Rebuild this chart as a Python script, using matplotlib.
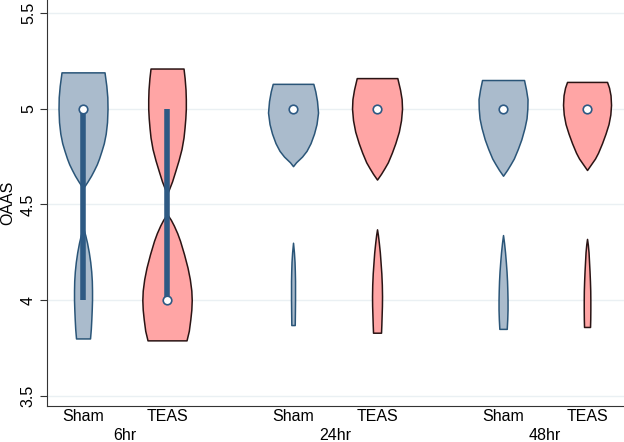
import matplotlib
matplotlib.use("Agg")
import matplotlib.pyplot as plt
import numpy as np

plt.rcParams['font.family'] = ['Liberation Sans', 'DejaVu Sans']

# ---------------- data ----------------
groups = ["6hr", "24hr", "48hr"]
arms = ["Sham", "TEAS"]
positions = [1, 2, 3.5, 4.5, 6, 7]
arm_of = ["Sham", "TEAS", "Sham", "TEAS", "Sham", "TEAS"]
medians = [5, 4, 5, 5, 5, 5]
q1 = [4, 4, 5, 5, 5, 5]
q3 = [5, 5, 5, 5, 5, 5]

# density profiles (y level, half-width density) for each violin, two lobes each
sham6_up_y = [4.586, 4.60, 4.62, 4.65, 4.68, 4.71, 4.74, 4.78, 4.82, 4.87, 4.93, 5.00, 5.06, 5.12, 5.19]
sham6_up_d = [0, 2, 4.5, 8, 11, 13.8, 16, 18.5, 20.8, 22.7, 24, 24.5, 24.3, 23.3, 21.5]
sham6_lo_y = [3.80, 3.85, 3.90, 3.95, 4.00, 4.05, 4.10, 4.15, 4.20, 4.25, 4.30, 4.34, 4.38]
sham6_lo_d = [7, 7.8, 8.3, 8.7, 9, 9, 8.8, 8.2, 7.2, 5.8, 4, 2.2, 0]

teas6_up_y = [4.555, 4.58, 4.62, 4.67, 4.73, 4.79, 4.85, 4.90, 4.95, 5.00, 5.05, 5.10, 5.16, 5.21]
teas6_up_d = [0, 2, 5, 8, 11.5, 14.5, 16.5, 17.5, 18.3, 18.8, 18.8, 18.5, 17.6, 16.5]
teas6_lo_y = [3.79, 3.84, 3.90, 3.95, 4.00, 4.05, 4.11, 4.17, 4.24, 4.31, 4.35, 4.39, 4.42, 4.45]
teas6_lo_d = [19.5, 21.8, 23.3, 24.3, 24.7, 24.3, 22.8, 20.5, 17, 13, 10.2, 6.8, 3.8, 0]

sham24_up_y = [4.70, 4.72, 4.75, 4.78, 4.82, 4.87, 4.92, 4.98, 5.04, 5.09, 5.13]
sham24_up_d = [0, 3, 9, 13.5, 17.5, 21, 23.5, 25, 24, 22.3, 20.3]
sham24_lo_y = [3.87, 3.95, 4.00, 4.05, 4.10, 4.15, 4.20, 4.25, 4.30]
sham24_lo_d = [1.7, 1.9, 2, 2, 2, 1.8, 1.5, 0.9, 0]

teas24_up_y = [4.63, 4.66, 4.69, 4.72, 4.77, 4.82, 4.88, 4.94, 5.00, 5.05, 5.10, 5.16]
teas24_up_d = [0, 4, 7.5, 10.8, 14.8, 18.3, 21.8, 24, 25, 24.6, 23, 20.3]
teas24_lo_y = [3.83, 3.87, 3.92, 3.97, 4.02, 4.08, 4.14, 4.20, 4.25, 4.30, 4.34, 4.37]
teas24_lo_d = [4, 4.3, 4.6, 4.9, 5, 4.8, 4.3, 3.5, 2.8, 1.8, 0.9, 0]

sham48_up_y = [4.65, 4.68, 4.71, 4.74, 4.79, 4.84, 4.90, 4.95, 5.00, 5.05, 5.10, 5.15]
sham48_up_d = [0, 4, 7.5, 10.8, 14.8, 18.3, 21.5, 23.5, 24.3, 24.5, 23, 21]
sham48_lo_y = [3.85, 3.90, 3.95, 4.00, 4.05, 4.10, 4.15, 4.20, 4.25, 4.30, 4.34]
sham48_lo_d = [3.7, 4.2, 4.5, 4.5, 4.3, 4, 3.5, 2.8, 2, 1, 0]

teas48_up_y = [4.68, 4.71, 4.74, 4.77, 4.82, 4.87, 4.92, 4.97, 5.02, 5.07, 5.11, 5.14]
teas48_up_d = [0, 4, 8, 11, 15, 18.5, 21.5, 23.3, 24, 23.5, 22, 20]
teas48_lo_y = [3.86, 3.90, 3.95, 4.00, 4.05, 4.10, 4.15, 4.20, 4.25, 4.29, 4.32]
teas48_lo_d = [3, 3.2, 3.3, 3.3, 3.2, 2.9, 2.5, 2, 1.5, 0.8, 0]

profiles = [
    [(sham6_up_y, sham6_up_d), (sham6_lo_y, sham6_lo_d)],
    [(teas6_up_y, teas6_up_d), (teas6_lo_y, teas6_lo_d)],
    [(sham24_up_y, sham24_up_d), (sham24_lo_y, sham24_lo_d)],
    [(teas24_up_y, teas24_up_d), (teas24_lo_y, teas24_lo_d)],
    [(sham48_up_y, sham48_up_d), (sham48_lo_y, sham48_lo_d)],
    [(teas48_up_y, teas48_up_d), (teas48_lo_y, teas48_lo_d)],
]

yticks = [3.5, 4, 4.5, 5, 5.5]
ytick_labels = ["3.5", "4", "4.5", "5", "5.5"]
ylabel = "OAAS"

# ---------------- style ----------------
fill_col = {"Sham": "#AABBCC", "TEAS": "#FFA5A5"}
edge_col = {"Sham": "#2A5578", "TEAS": "#2A1414"}
bar_col = "#2E5A84"
width_scale = 1 / 84.0

fig = plt.figure(figsize=(6.24, 4.42), dpi=100)
ax = fig.add_axes([0.0753, 0.0814, 0.9247, 0.9186])

for yt in yticks:
    ax.axhline(yt, color="#EAF0F3", lw=1.0, zorder=0)

for i, pos in enumerate(positions):
    arm = arm_of[i]
    for ys, ds in profiles[i]:
        ys = np.asarray(ys, float)
        w = np.asarray(ds, float) * width_scale
        ax.fill_betweenx(ys, pos - w, pos + w, facecolor=fill_col[arm],
                         edgecolor=edge_col[arm], lw=1.1, zorder=2)
    if q3[i] > q1[i]:
        ax.vlines(pos, q1[i], q3[i], color=bar_col, lw=4, zorder=3)
    ax.scatter([pos], [medians[i]], s=38, facecolor="white",
               edgecolor=bar_col, linewidth=1.2, zorder=4)

ax.set_xlim(0.571, 7.44)
ax.set_ylim(3.447, 5.568)
ax.set_yticks(yticks)
ax.set_yticklabels(ytick_labels, rotation=90, va="center", fontsize=11.5)
ax.tick_params(axis="y", length=5, color="#333333", pad=3)
ax.set_ylabel(ylabel, fontsize=11.5, labelpad=4)

ax.set_xticks(positions)
ax.set_xticklabels(arm_of, fontsize=11.5)
ax.tick_params(axis="x", length=0, pad=2)
for gi, g in enumerate(groups):
    center = (positions[2 * gi] + positions[2 * gi + 1]) / 2
    ax.text(center, -0.0825, g, transform=ax.get_xaxis_transform(),
            ha="center", va="baseline", fontsize=11.5)

for s in ["top", "right"]:
    ax.spines[s].set_visible(False)
ax.spines["left"].set_color("#333333")
ax.spines["bottom"].set_color("#333333")

fig.savefig("out.png", dpi=100)
